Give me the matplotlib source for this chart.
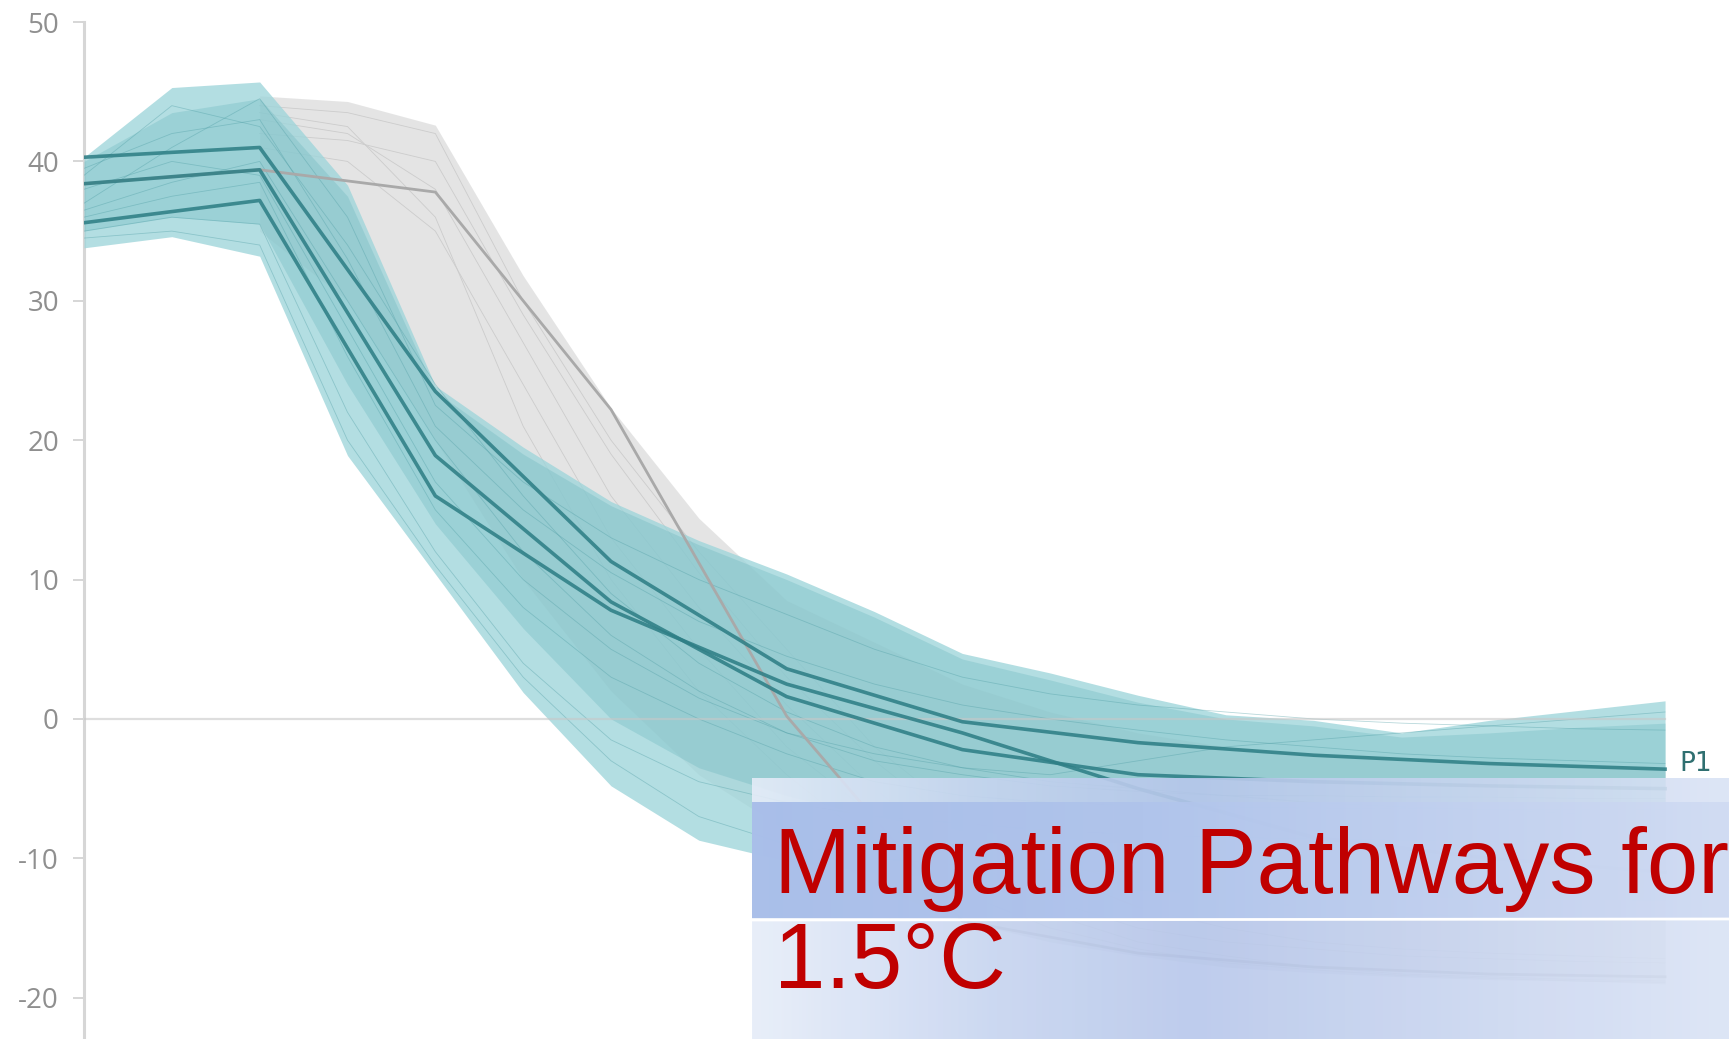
import numpy as np
import matplotlib
matplotlib.use("Agg")
import matplotlib.pyplot as plt
from matplotlib.colors import to_rgb

plt.rcParams['font.family'] = ['Open Sans', 'DejaVu Sans']

# ---- data ----
years5 = list(range(2010, 2101, 5))
years10 = list(range(2010, 2101, 10))
years_gray = list(range(2020, 2101, 5))

# teal range (outer envelope and denser inner part)
teal_hi = [40.3, 45.3, 45.7, 38.3, 23.9, 19.5, 15.6, 12.8, 10.4, 7.7, 4.7, 3.3, 1.7, 0.3, -0.1, -1.0, -0.1, 0.6, 1.3]
teal_lo = [33.8, 34.6, 33.2, 18.9, 10.4, 1.9, -4.8, -8.7, -10.2, -11.0, -11.5, -12.0, -12.3, -12.5, -12.6, -12.7, -12.8, -12.9, -13.0]
inner_hi = [40.0, 43.5, 44.5, 37.5, 23.5, 19.0, 15.3, 12.5, 10.0, 7.3, 4.3, 2.8, 1.2, 0.0, -0.5, -1.3, -1.0, -0.6, -0.3]
inner_lo = [35.0, 36.0, 35.5, 24.0, 14.0, 6.5, 0.0, -3.5, -5.5, -7.0, -8.0, -8.5, -9.0, -9.0, -9.0, -9.0, -9.0, -9.0, -9.0]

# gray range
gray_hi = [44.7, 44.3, 42.6, 31.8, 22.3, 14.4, 8.5, 5.5, 2.5, 0.5, -1.0, -2.0, -2.5, -3.0, -3.3, -3.5, -3.7]
gray_lo = [35.0, 30.0, 20.0, 10.0, 2.0, -4.0, -8.0, -12.0, -14.5, -16.0, -17.0, -17.8, -18.2, -18.5, -18.7, -18.8, -19.0]

# individual pathways (thin)
teal_thin = [
    [39.0, 44.0, 42.5, 34.0, 24.0, 16.0, 9.0, 4.0, 0.5, -2.0, -3.5, -4.5, -5.0, -5.5, -6.0, -6.3, -6.5, -6.8, -7.0],
    [36.5, 38.5, 40.0, 30.0, 20.0, 12.0, 6.0, 2.0, -1.0, -3.0, -4.0, -4.8, -5.2, -5.5, -5.5, -5.6, -5.6, -5.7, -5.7],
    [35.0, 36.0, 35.5, 22.0, 12.0, 4.0, -1.5, -4.5, -6.0, -7.0, -7.5, -8.0, -8.3, -8.5, -8.6, -8.7, -8.8, -8.8, -8.9],
    [37.0, 41.0, 44.5, 36.0, 22.5, 17.0, 13.0, 10.0, 7.5, 5.0, 3.0, 1.8, 1.0, 0.5, 0.0, -0.3, -0.5, -0.7, -0.8],
    [38.0, 40.0, 39.0, 28.0, 17.0, 10.0, 5.0, 1.5, -1.0, -2.5, -3.5, -4.0, -3.0, -2.0, -1.5, -1.0, -0.5, 0.0, 0.5],
    [34.5, 35.0, 34.0, 20.0, 11.0, 3.0, -3.0, -7.0, -9.0, -10.0, -10.5, -10.8, -11.0, -11.0, -11.0, -11.0, -11.0, -11.0, -11.0],
    [39.5, 42.0, 43.0, 33.0, 21.0, 15.0, 10.5, 7.0, 4.5, 2.5, 1.0, 0.0, -0.8, -1.5, -2.0, -2.5, -2.8, -3.0, -3.2],
    [36.0, 37.5, 38.5, 26.0, 15.0, 8.0, 3.0, 0.0, -2.5, -4.5, -5.5, -6.0, -6.2, -6.3, -6.4, -6.4, -6.5, -6.5, -6.5],
]
gray_thin = [
    [44.0, 43.5, 42.0, 30.0, 20.0, 12.0, 5.0, -2.0, -7.0, -10.0, -12.0, -13.0, -13.5, -14.0, -14.2, -14.4, -14.5],
    [43.0, 42.0, 38.0, 27.0, 16.0, 8.0, 1.0, -5.0, -10.0, -13.0, -15.0, -16.0, -16.5, -17.0, -17.2, -17.4, -17.5],
    [42.0, 41.5, 40.0, 29.0, 19.0, 10.5, 3.0, -3.0, -8.0, -11.0, -13.5, -15.0, -16.0, -16.5, -16.8, -17.0, -17.2],
    [41.0, 40.0, 35.0, 24.0, 13.0, 5.0, -2.0, -7.0, -11.0, -14.0, -16.0, -17.0, -17.8, -18.3, -18.5, -18.7, -18.8],
    [43.5, 42.5, 36.0, 21.0, 10.0, 2.0, -4.0, -9.0, -12.5, -15.0, -16.5, -17.5, -18.0, -18.4, -18.6, -18.8, -18.9],
]

# highlighted pathways (10-year steps)
p1 = [40.3, 41.0, 23.5, 11.3, 3.6, -0.2, -1.7, -2.6, -3.2, -3.6]
p2 = [38.4, 39.4, 18.9, 8.4, 1.6, -2.2, -4.0, -4.5, -4.8, -5.0]
p3 = [35.6, 37.2, 16.0, 7.8, 2.5, -1.0, -5.0, -8.5, -10.0, -11.0]
gray_path = [38.4, 39.4, 37.8, 22.2, 0.2, -14.5, -16.8, -17.8, -18.3, -18.5]

yticks = [-20, -10, 0, 10, 20, 30, 40, 50]
title_lines = ["Mitigation Pathways for", "1.5°C"]

# ---- figure ----
W, H = 1729, 1039
fig = plt.figure(figsize=(W / 100, H / 100), dpi=100)
ax = fig.add_axes([84 / W, 0, 1 - 84 / W, 1])
ax.set_xlim(2010, 2103.64)
ax.set_ylim(-22.96, 51.58)

ax.fill_between(years_gray, gray_lo, gray_hi, color='#e2e2e2', alpha=0.9, lw=0, zorder=2)
for g in gray_thin:
    ax.plot(years_gray, g, color='#cccccc', lw=0.6, zorder=2.5)

ax.fill_between(years5, teal_lo, teal_hi, color='#9ed5da', alpha=0.78, lw=0, zorder=3)
ax.fill_between(years5, inner_lo, inner_hi, color='#5fb0b8', alpha=0.28, lw=0, zorder=3.1)
for t in teal_thin:
    ax.plot(years5, t, color='#4f9ea5', lw=0.6, alpha=0.4, zorder=3.5)

ax.plot([2010, 2100], [0, 0], color='#c8c8c8', lw=1.6, alpha=0.6, zorder=3.6)

ax.plot(years10, gray_path, color='#a9a9a9', lw=2.0, zorder=4)
for p in (p3, p2, p1):
    ax.plot(years10, p, color='#2f7f86', lw=2.6, alpha=0.88, zorder=5)

ax.text(2100.8, -3.2, 'P1', color='#2f6f70', fontsize=19, va='center', ha='left',
        family=['DejaVu Sans'], zorder=6)

for s in ('top', 'right', 'bottom'):
    ax.spines[s].set_visible(False)
ax.spines['left'].set_color('#d6d6d6')
ax.spines['left'].set_linewidth(2.2)
ax.spines['left'].set_bounds(-23, 50)
ax.set_xticks([])
ax.set_yticks(yticks)
ax.set_yticklabels([str(v) for v in yticks])
ax.tick_params(axis='y', length=8, width=1.2, color='#d0d0d0', labelcolor='#8f8f8f',
               labelsize=20, pad=10)
ax.patch.set_alpha(0)

# ---- title box overlay ----
def gradient(stops, alpha, n=400):
    xs = np.linspace(0, 1, n)
    pos = [s[0] for s in stops]
    rgb = np.array([to_rgb(s[1]) for s in stops])
    img = np.zeros((1, n, 4))
    for k in range(3):
        img[0, :, k] = np.interp(xs, pos, rgb[:, k])
    img[0, :, 3] = alpha
    return img

x0 = 752 / W
outer = fig.add_axes([x0, 0, 1 - x0, (H - 778) / H])
outer.imshow(gradient([(0, '#e6edf9'), (0.25, '#c6d4f0'), (0.45, '#b7c7eb'), (1, '#dae3f5')], 0.9),
             aspect='auto', extent=[0, 1, 0, 1])
outer.axis('off')

band = fig.add_axes([x0, (H - 918) / H, 1 - x0, 116 / H])
band.imshow(gradient([(0, '#a3bae8'), (0.4, '#b0c4ec'), (1, '#d0dbf3')], 0.9),
            aspect='auto', extent=[0, 1, 0, 1])
band.axis('off')

fig.add_artist(plt.Line2D([x0, 1], [(H - 920) / H, (H - 919) / H], color='white', lw=2.0))

fig.text(774 / W, (H - 893) / H, title_lines[0], color='#c00000', fontsize=66.5,
         family=['Liberation Sans', 'DejaVu Sans'], va='baseline', ha='left')
fig.text(774 / W, (H - 988) / H, title_lines[1], color='#c00000', fontsize=66.5,
         family=['Liberation Sans', 'DejaVu Sans'], va='baseline', ha='left')

fig.savefig('out.png', dpi=100)
